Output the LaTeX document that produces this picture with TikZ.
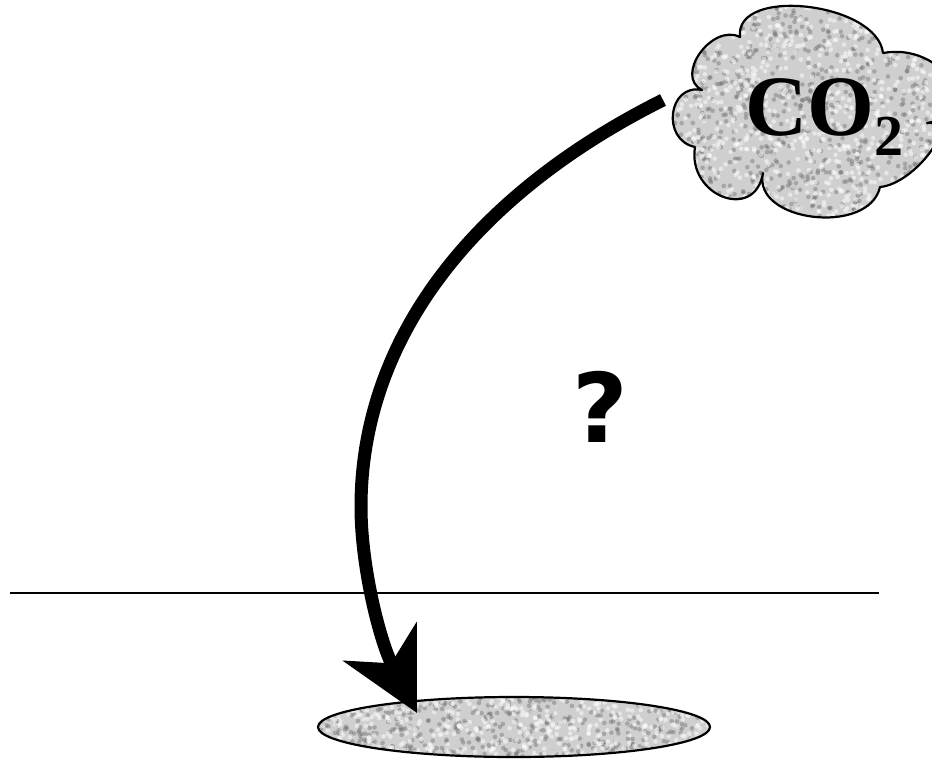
\documentclass[tikz,border=0pt]{standalone}
\usepackage{fontspec}
\setmainfont{Liberation Serif}
\newfontfamily\qfont{DejaVu Sans}
\usetikzlibrary{arrows.meta,shapes.geometric}
\tikzset{
  outline/.style={draw=black,line width=2.2pt},
  speckdark/.style={fill=black!60,opacity=0.4},
  specklight/.style={fill=white,opacity=0.5},
  bigarrow/.style={line width=13pt,-{Stealth[length=80pt,width=82pt,inset=24pt]}},
}
\begin{document}
\begin{tikzpicture}[x=1pt,y=-1pt]
\useasboundingbox (0,0) rectangle (932,761);
\pgfmathsetseed{7}
% cloud
\def\cloudpath{(740,37) .. controls (734,-14) and (877,2) .. (883,53)
  .. controls (943,42) and (987,112) .. (927,123)
  .. controls (962,120) and (915,184) .. (880,187)
  .. controls (869,236) and (752,222) .. (763,173)
  .. controls (755,222) and (687,196) .. (695,147)
  .. controls (661,140) and (668,83) .. (702,90)
  .. controls (674,76) and (712,23) .. (740,37) -- cycle}
\begin{scope}
  \clip \cloudpath;
  \fill[gray!38] (650,0) rectangle (940,230);
  \foreach \i in {1,...,900}{\fill[speckdark] ({655+285*rnd},{0+225*rnd}) circle (2.3);}
  \foreach \i in {1,...,900}{\fill[specklight] ({655+285*rnd},{0+225*rnd}) circle (2.3);}
\end{scope}
\draw[outline,line join=round] \cloudpath;
\node[anchor=base west,inner sep=0pt,font=\fontsize{86}{86}\selectfont\bfseries] (co2) at (745,135)
  {CO\raisebox{-20pt}{\fontsize{58}{58}\selectfont 2}};
% horizontal line
\coordinate (l1) at (10,593);
\coordinate (l2) at (879,593);
\draw[line width=2.3pt] (l1) -- (l2);
% pool ellipse
\node[ellipse,minimum width=392pt,minimum height=60pt,inner sep=0pt] (pool) at (514,727) {};
\begin{scope}
  \clip (pool.center) ellipse [x radius=196, y radius=30];
  \fill[gray!38] (315,695) rectangle (712,760);
  \foreach \i in {1,...,500}{\fill[speckdark] ({315+397*rnd},{695+65*rnd}) circle (2.3);}
  \foreach \i in {1,...,500}{\fill[specklight] ({315+397*rnd},{695+65*rnd}) circle (2.3);}
\end{scope}
\draw[outline] (pool.center) ellipse [x radius=196, y radius=30];
% question mark
\node[inner sep=0pt,font=\qfont\bfseries\fontsize{96}{96}\selectfont] (q) at (600,407) {?};
% arrow
\coordinate (start) at (663,100);
\coordinate (mid) at (361,507);
\coordinate (tip) at (417,713);
\draw[bigarrow] (start) .. controls (475,194) and (361,337) .. (mid)
  .. controls (361,567) and (380,642) .. (tip);
\end{tikzpicture}
\end{document}
